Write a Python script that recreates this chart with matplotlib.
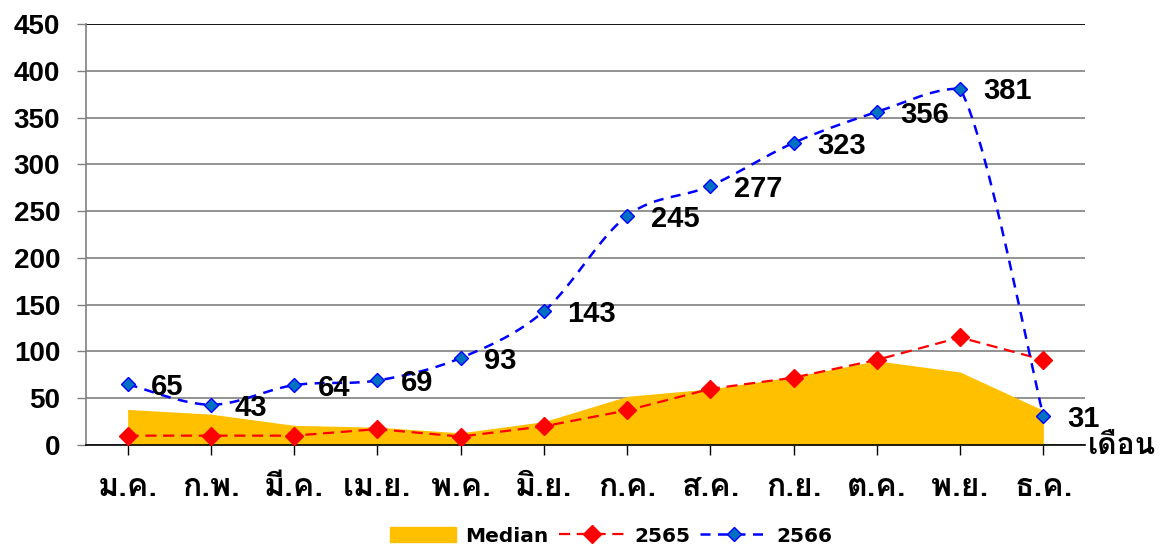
import numpy as np
import matplotlib
matplotlib.use("Agg")
import matplotlib.pyplot as plt
from matplotlib.patches import Patch
from matplotlib.lines import Line2D

months = ["ม.ค.", "ก.พ.", "มี.ค.", "เม.ย.", "พ.ค.", "มิ.ย.",
          "ก.ค.", "ส.ค.", "ก.ย.", "ต.ค.", "พ.ย.", "ธ.ค."]
median = [38, 33, 21, 19, 13, 25, 52, 60, 73, 90, 78, 37]
y2565 = [10, 10, 10, 17, 9, 20, 37, 60, 72, 91, 115, 91]
y2566 = [65, 43, 64, 69, 93, 143, 245, 277, 323, 356, 381, 31]

plt.rcParams["font.family"] = ["Liberation Sans", "Loma", "DejaVu Sans"]
plt.rcParams["font.weight"] = "bold"
thai = ["Loma", "DejaVu Sans"]


def smooth(xs, ys, n=30):
    # เส้นโค้งแบบ Excel, จำกัดจุดควบคุมไม่ให้เกินช่วงของแต่ละช่วง
    xs = np.asarray(xs, float)
    ys = np.asarray(ys, float)
    px = np.concatenate([[xs[0]], xs, [xs[-1]]])
    py = np.concatenate([[ys[0]], ys, [ys[-1]]])
    ox, oy = [], []
    t = np.linspace(0, 1, n)
    for i in range(1, len(px) - 2):
        p0 = np.array([px[i], py[i]])
        p3 = np.array([px[i + 1], py[i + 1]])
        p1 = p0 + (np.array([px[i + 1], py[i + 1]]) - np.array([px[i - 1], py[i - 1]])) / 6
        p2 = p3 - (np.array([px[i + 2], py[i + 2]]) - np.array([px[i], py[i]])) / 6
        lo, hi = min(p0[1], p3[1]), max(p0[1], p3[1])
        p1[1] = np.clip(p1[1], lo, hi)
        p2[1] = np.clip(p2[1], lo, hi)
        b = ((1 - t) ** 3)[:, None] * p0 + (3 * (1 - t) ** 2 * t)[:, None] * p1 \
            + (3 * (1 - t) * t ** 2)[:, None] * p2 + (t ** 3)[:, None] * p3
        ox.extend(b[:, 0])
        oy.extend(b[:, 1])
    return ox, oy


x = np.arange(len(months))

fig = plt.figure(figsize=(11.61, 5.47), dpi=100)
ax = fig.add_axes([86 / 1161, 1 - 445 / 547, 999 / 1161, 421 / 547])

ax.fill_between(x, median, color="#FFC000", lw=0, zorder=2)
ax.plot(x, y2565, color="red", ls=(0, (5, 3)), lw=1.6, marker="D", ms=9,
        mfc="red", mec="red", zorder=3)
sx, sy = smooth(x, y2566)
ax.plot(sx, sy, color="blue", ls=(0, (4, 3)), lw=1.8, zorder=4)
ax.plot(x, y2566, ls="none", marker="D", ms=7.5, mfc="#0070C0", mec="blue",
        mew=1, zorder=5)

for xi, v in zip(x, y2566):
    ax.annotate(str(v), (xi, v), xytext=(17, -2), textcoords="offset points",
                ha="left", va="center", fontsize=21, fontweight="bold", zorder=6)

ax.set_xlim(-0.5, 11.5)
ax.set_ylim(0, 450)
ax.set_yticks(range(0, 451, 50))
ax.set_xticks(x)
ax.set_xticklabels(months, fontsize=23, fontweight="bold", family=thai)
ax.tick_params(axis="y", labelsize=20, length=6.5, width=1, color="#808080", pad=12)
ax.tick_params(axis="x", length=7, width=1, color="black", pad=13)
ax.yaxis.grid(True, color="#808080", lw=1.2)
ax.set_axisbelow(True)
for s in ("top", "right"):
    ax.spines[s].set_visible(False)
ax.spines["left"].set_color("#808080")
ax.spines["left"].set_linewidth(1.2)
ax.spines["bottom"].set_color("black")
ax.spines["bottom"].set_linewidth(1.2)
ax.axhline(450, color="black", lw=1.2, zorder=1)

ax.text(1.003, -0.002, "เดือน", transform=ax.transAxes, ha="left", va="center",
        fontsize=21.5, fontweight="bold", family=thai)

handles = [Patch(color="#FFC000"),
           Line2D([], [], color="red", ls=(0, (5, 3)), lw=1.6, marker="D", ms=9, mfc="red", mec="red"),
           Line2D([], [], color="blue", ls=(0, (4, 3)), lw=1.8, marker="D", ms=7.5, mfc="#0070C0", mec="blue")]
fig.legend(handles, ["Median", "2565", "2566"], loc="center", bbox_to_anchor=(611 / 1161, 1 - 536 / 547),
           ncol=3, frameon=False, prop={"family": "DejaVu Sans", "size": 14.5, "weight": "bold"},
           handlelength=3.3, columnspacing=0.5, handletextpad=0.45)

fig.savefig("out.png", dpi=100)
